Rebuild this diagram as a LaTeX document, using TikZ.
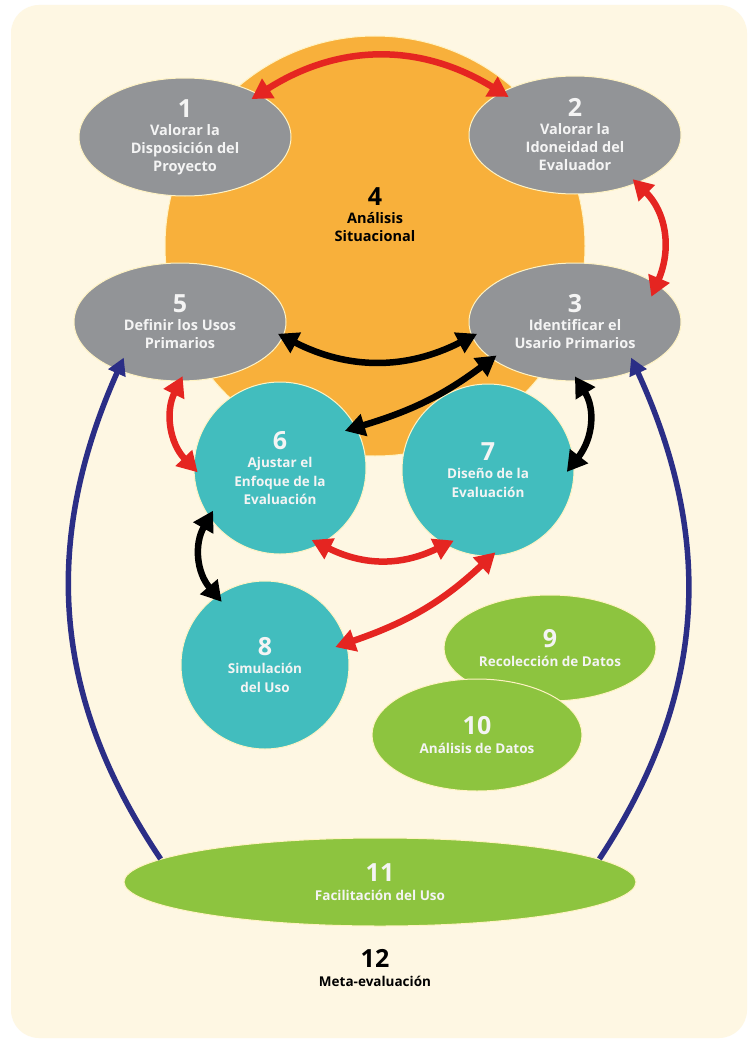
\documentclass[tikz,border=0pt]{standalone}
\usepackage{fontspec}
\setmainfont{Open Sans}
\usetikzlibrary{arrows.meta,shapes.geometric}
\definecolor{cream}{HTML}{FEF7E3}
\definecolor{orng}{HTML}{F8B03B}
\definecolor{grayn}{HTML}{929497}
\definecolor{tealn}{HTML}{42BDBE}
\definecolor{greenn}{HTML}{8DC43F}
\definecolor{redc}{HTML}{E52521}
\definecolor{bluec}{HTML}{2B2E86}
\definecolor{rim}{HTML}{FFF3C4}
\definecolor{txtw}{HTML}{F4F4F4}
\newcommand\numtxt[1]{{\fontsize{25}{25}\selectfont #1}}
\begin{document}
\begin{tikzpicture}[x=1pt,y=1pt,
  base/.style={inner sep=0pt, align=center, draw=rim, line width=1pt},
  grayell/.style={base, ellipse, fill=grayn, text=txtw,
    font=\bfseries\fontsize{14.5}{18}\selectfont,
    minimum width=212pt, minimum height=118pt},
  tealcirc/.style={base, circle, fill=tealn, text=txtw,
    font=\bfseries\fontsize{13.5}{18.5}\selectfont, minimum size=172pt},
  greenell/.style={base, ellipse, fill=greenn, text=txtw,
    font=\bfseries\fontsize{13.5}{18.5}\selectfont},
  blacklabel/.style={inner sep=0pt, align=center, text=black,
    font=\bfseries\fontsize{13.5}{18.5}\selectfont},
  tipT/.tip={Triangle[length=20pt,width=22pt]},
  tipB/.tip={Triangle[length=17pt,width=18pt]},
  redarr/.style={tipT-tipT, draw=redc, line width=6.5pt,
    shorten <=-6pt, shorten >=-6pt},
  blkarr/.style={tipT-tipT, draw=black, line width=6.5pt,
    shorten <=-6pt, shorten >=-6pt},
  bluarr/.style={-tipB, draw=bluec, line width=5.5pt}
]
% background
\fill[white] (0,0) rectangle (750,-1041);
\fill[cream, rounded corners=28pt] (11,-5) rectangle (747,-1038);
\useasboundingbox (0,0) rectangle (750,-1041);

% situational analysis
\node[base, circle, fill=orng, minimum size=420pt] (n4) at (375,-246) {};
\node[blacklabel, font=\bfseries\fontsize{14.5}{18}\selectfont] (l4) at (375,-215) {\numtxt{4}\\Análisis\\Situacional};

% gray ellipses
\node[grayell] (n1) at (185,-137) {\numtxt{1}\\Valorar la\\Disposición del\\Proyecto};
\node[grayell] (n2) at (575,-135) {\numtxt{2}\\Valorar la\\Idoneidad del\\Evaluador};
\node[grayell] (n5) at (180,-322) {\numtxt{5}\\Definir los Usos\\Primarios};
\node[grayell] (n3) at (575,-322) {\numtxt{3}\\Identificar el\\Usario Primarios};

% teal circles
\node[tealcirc] (n6) at (280,-468) {\numtxt{6}\\Ajustar el\\Enfoque de la\\Evaluación};
\node[tealcirc] (n7) at (488,-470) {\numtxt{7}\\Diseño de la\\Evaluación};
\node[tealcirc, minimum size=168pt] (n8) at (265,-665) {\numtxt{8}\\Simulación\\del Uso};

% green ellipses
\node[greenell, minimum width=212pt, minimum height=106pt] (n9) at (550,-648) {\numtxt{9}\\Recolección de Datos};
\node[greenell, minimum width=210pt, minimum height=112pt] (n10) at (477,-735) {\numtxt{10}\\Análisis de Datos};
\node[greenell, minimum width=512pt, minimum height=88pt] (n11) at (380,-882) {\numtxt{11}\\Facilitación del Uso};

\node[blacklabel] (l12) at (375,-968) {\numtxt{12}\\Meta-evaluación};

% connectors
\draw[redarr, shorten <=-9pt, shorten >=-9pt] (n1.30) to[bend left=32] (n2.150);
\draw[redarr, shorten >=-14pt] (n2.-38) to[bend left=34] (n3.25);
\draw[blkarr] (n5.-8) to[bend right=27] (n3.188);
\draw[blkarr, shorten >=-12pt] (n3.204) to[bend left=10] (n6.28);
\draw[blkarr, shorten >=-12pt] (n3.-87) to[bend left=35] (n7.5);
\draw[redarr] (n5.-90) to[bend right=35] (n6.180);
\draw[redarr, shorten <=-10pt, shorten >=-10pt] (n6.-62) to[bend right=26] (n7.240);
\draw[redarr, shorten >=-12pt] (n7.-88) to[bend left=12] (n8.15);
\draw[blkarr, shorten <=-8pt, shorten >=-8pt] (n6.215) to[bend right=35] (n8.125);
\draw[bluarr, shorten >=-14pt] (n11.174) to[bend left=29] (n5.218);
\draw[bluarr, shorten >=-14pt] (n11.6) to[bend right=29] (n3.-38);
\end{tikzpicture}
\end{document}
